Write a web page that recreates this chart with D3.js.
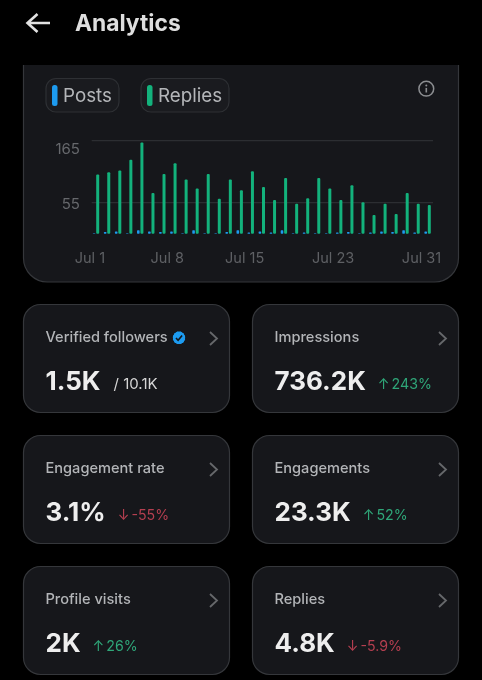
<!DOCTYPE html>
<html>
<head>
<meta charset="utf-8">
<script src="https://cdnjs.cloudflare.com/ajax/libs/d3/7.8.5/d3.min.js"></script>
<style>
html,body{margin:0;padding:0;background:#000;overflow:hidden}
svg{display:block;filter:blur(0.35px)}
text{font-family:Inter,"Noto Sans",sans-serif}
</style>
</head>
<body>
<svg id="c" width="482" height="680"></svg>
<script>
// ---- data ----
const days = d3.range(1, 32);
const replies = [105,109,112,131,162,72,106,125,96,80,106,62,96,77,111,83,60,99,53,63,99,80,60,86,56,33,53,35,72,53,51];
const posts = [1,3,4,1,6,4,3,4,1,6,1,1,3,6,2,4,2,6,1,2,1,1,2,3,1,2,4,3,6,2,4];
const yTicks = [55,165];
const xTicks = [1,8,15,23,31];
const legendNames = ["Posts","Replies"];
const cardLabels = ["Verified followers","Impressions","Engagement rate","Engagements","Profile visits","Replies"];
const cardValues = ["1.5K","736.2K","3.1%","23.3K","2K","4.8K"];
const cardDeltas = [null,"243%","-55%","52%","26%","-5.9%"];
const cardDirs = [0,1,-1,1,1,-1];
const verifiedTotal = "/ 10.1K";

// ---- styling ----
const cardFill="#16171b", cardStroke="#35373b", green="#13b27c", blue="#1d9bf0";
const svg=d3.select("#c");

// header
svg.append("path").attr("d","M27.5 23H50M37.5 14L27.5 23L37.5 32")
  .attr("fill","none").attr("stroke","#e2e2e2").attr("stroke-width",2.6);
svg.append("text").attr("x",75).attr("y",31).attr("font-size",22.8).attr("font-weight",700)
  .attr("fill","#dedede").text("Analytics");

// chart card, clipped by the header
svg.append("clipPath").attr("id","hdr").append("rect").attr("x",0).attr("y",65).attr("width",482).attr("height",615);
svg.append("rect").attr("x",23.5).attr("y",30).attr("width",435).attr("height",252).attr("rx",24)
  .attr("fill",cardFill).attr("stroke",cardStroke).attr("stroke-width",1.2).attr("clip-path","url(#hdr)");

// legend
const chipX=[46,141], chipW=[73,88];
legendNames.forEach((n,i)=>{
  svg.append("rect").attr("x",chipX[i]).attr("y",78.5).attr("width",chipW[i]).attr("height",33.5).attr("rx",10)
    .attr("fill","#1a1b1f").attr("stroke","#2e3034").attr("stroke-width",1.2);
  svg.append("rect").attr("x",chipX[i]+6).attr("y",85).attr("width",5.5).attr("height",21).attr("rx",2.5)
    .attr("fill",i?green:blue);
  svg.append("text").attr("x",chipX[i]+17).attr("y",102).attr("font-size",18.8).attr("fill","#b4b6b9").text(n);
});

// info icon
const info=svg.append("g").attr("transform","translate(426.3,88.7)");
info.append("circle").attr("r",7.4).attr("fill","none").attr("stroke","#8c8e91").attr("stroke-width",1.5);
info.append("circle").attr("cy",-3.2).attr("r",1).attr("fill","#8c8e91");
info.append("line").attr("y1",-0.8).attr("y2",3.8).attr("stroke","#8c8e91").attr("stroke-width",1.6);

// scales and axes
const x=d3.scaleLinear().domain([1,31]).range([97.7,429.3]);
const y=d3.scaleLinear().domain([0,165]).range([233.7,140.7]);

const gy=svg.append("g").attr("transform","translate(80,0)")
  .call(d3.axisLeft(y).tickValues(yTicks).tickSize(0).tickPadding(0));
gy.select(".domain").remove();
gy.selectAll("text").attr("font-size",15).attr("fill","#66686c")
  .style("font-family","Inter,sans-serif")
  .attr("dy",d=>d===165?"0.83em":"0.36em");

svg.append("g").selectAll("line").data(yTicks).join("line")
  .attr("x1",91.7).attr("x2",433).attr("y1",d=>y(d)).attr("y2",d=>y(d))
  .attr("stroke","#2c2e32").attr("stroke-width",1.2);

const gx=svg.append("g").attr("transform","translate(-8.3,249)")
  .call(d3.axisBottom(x).tickValues(xTicks).tickFormat(d=>"Jul "+d).tickSize(0).tickPadding(0));
gx.select(".domain").remove();
gx.selectAll("text").attr("font-size",14.5).attr("fill","#5e6064")
  .style("font-family","Inter,sans-serif").attr("dy","0.95em");

// bars
svg.append("g").selectAll("rect").data(days).join("rect")
  .attr("x",d=>x(d)-1.5).attr("width",3).attr("y",(d,i)=>y(replies[i]))
  .attr("height",(d,i)=>y(0)-y(replies[i])).attr("rx",1).attr("fill",green);
svg.append("g").selectAll("rect").data(days).join("rect")
  .attr("x",d=>x(d)-4.9).attr("width",2.6).attr("y",(d,i)=>y(posts[i]))
  .attr("height",(d,i)=>y(0)-y(posts[i])).attr("rx",.6).attr("fill",blue);

// stat cards
const colX=[23.5,252.5], rowY=[304.5,435.5,566.5];
const cards=svg.append("g").selectAll("g").data(cardLabels).join("g")
  .attr("transform",(d,i)=>`translate(${colX[i%2]},${rowY[Math.floor(i/2)]})`);
cards.append("rect").attr("width",206).attr("height",108).attr("rx",17)
  .attr("fill",cardFill).attr("stroke",cardStroke).attr("stroke-width",1.2);
cards.append("text").attr("x",22).attr("y",37.5).attr("font-size",14.6).attr("font-weight",500)
  .attr("fill","#b3b5b8").text(d=>d);
cards.append("path").attr("d","M186.5 27.5L193.5 34L186.5 40.5").attr("fill","none")
  .attr("stroke","#66686b").attr("stroke-width",1.8);
const vals=cards.append("text").attr("x",22).attr("y",85).attr("font-size",26).attr("font-weight",700)
  .attr("fill","#eeeeee").text((d,i)=>cardValues[i]);
cards.each(function(d,i){
  const g=d3.select(this), end=22+vals.nodes()[i].getComputedTextLength();
  if(cardDeltas[i]){
    const t=g.append("text").attr("x",end+12).attr("y",84.5).attr("font-size",14.2)
      .attr("fill",cardDirs[i]>0?"#2fa779":"#b53f50");
    t.append("tspan").attr("font-size",14).text(cardDirs[i]>0?"↑":"↓");
    t.append("tspan").attr("dx",2).text(cardDeltas[i]);
  } else {
    g.append("text").attr("x",end+13).attr("y",84.5).attr("font-size",15).attr("fill","#d6d6d6").text(verifiedTotal);
  }
});

// verified badge
const badge=svg.append("g").attr("transform","translate(179,337.8)");
badge.append("path").attr("d",d3.symbol().type(d3.symbolCircle).size(120)).attr("fill",blue);
[0,30,60].forEach(a=>badge.append("rect").attr("x",-5).attr("y",-5).attr("width",10).attr("height",10).attr("rx",2)
  .attr("transform",`rotate(${a})`).attr("fill",blue));
badge.append("path").attr("d","M-3 0.2L-0.9 2.4L3.1 -2.4").attr("fill","none").attr("stroke","#14161a").attr("stroke-width",1.6);
</script>
</body>
</html>
